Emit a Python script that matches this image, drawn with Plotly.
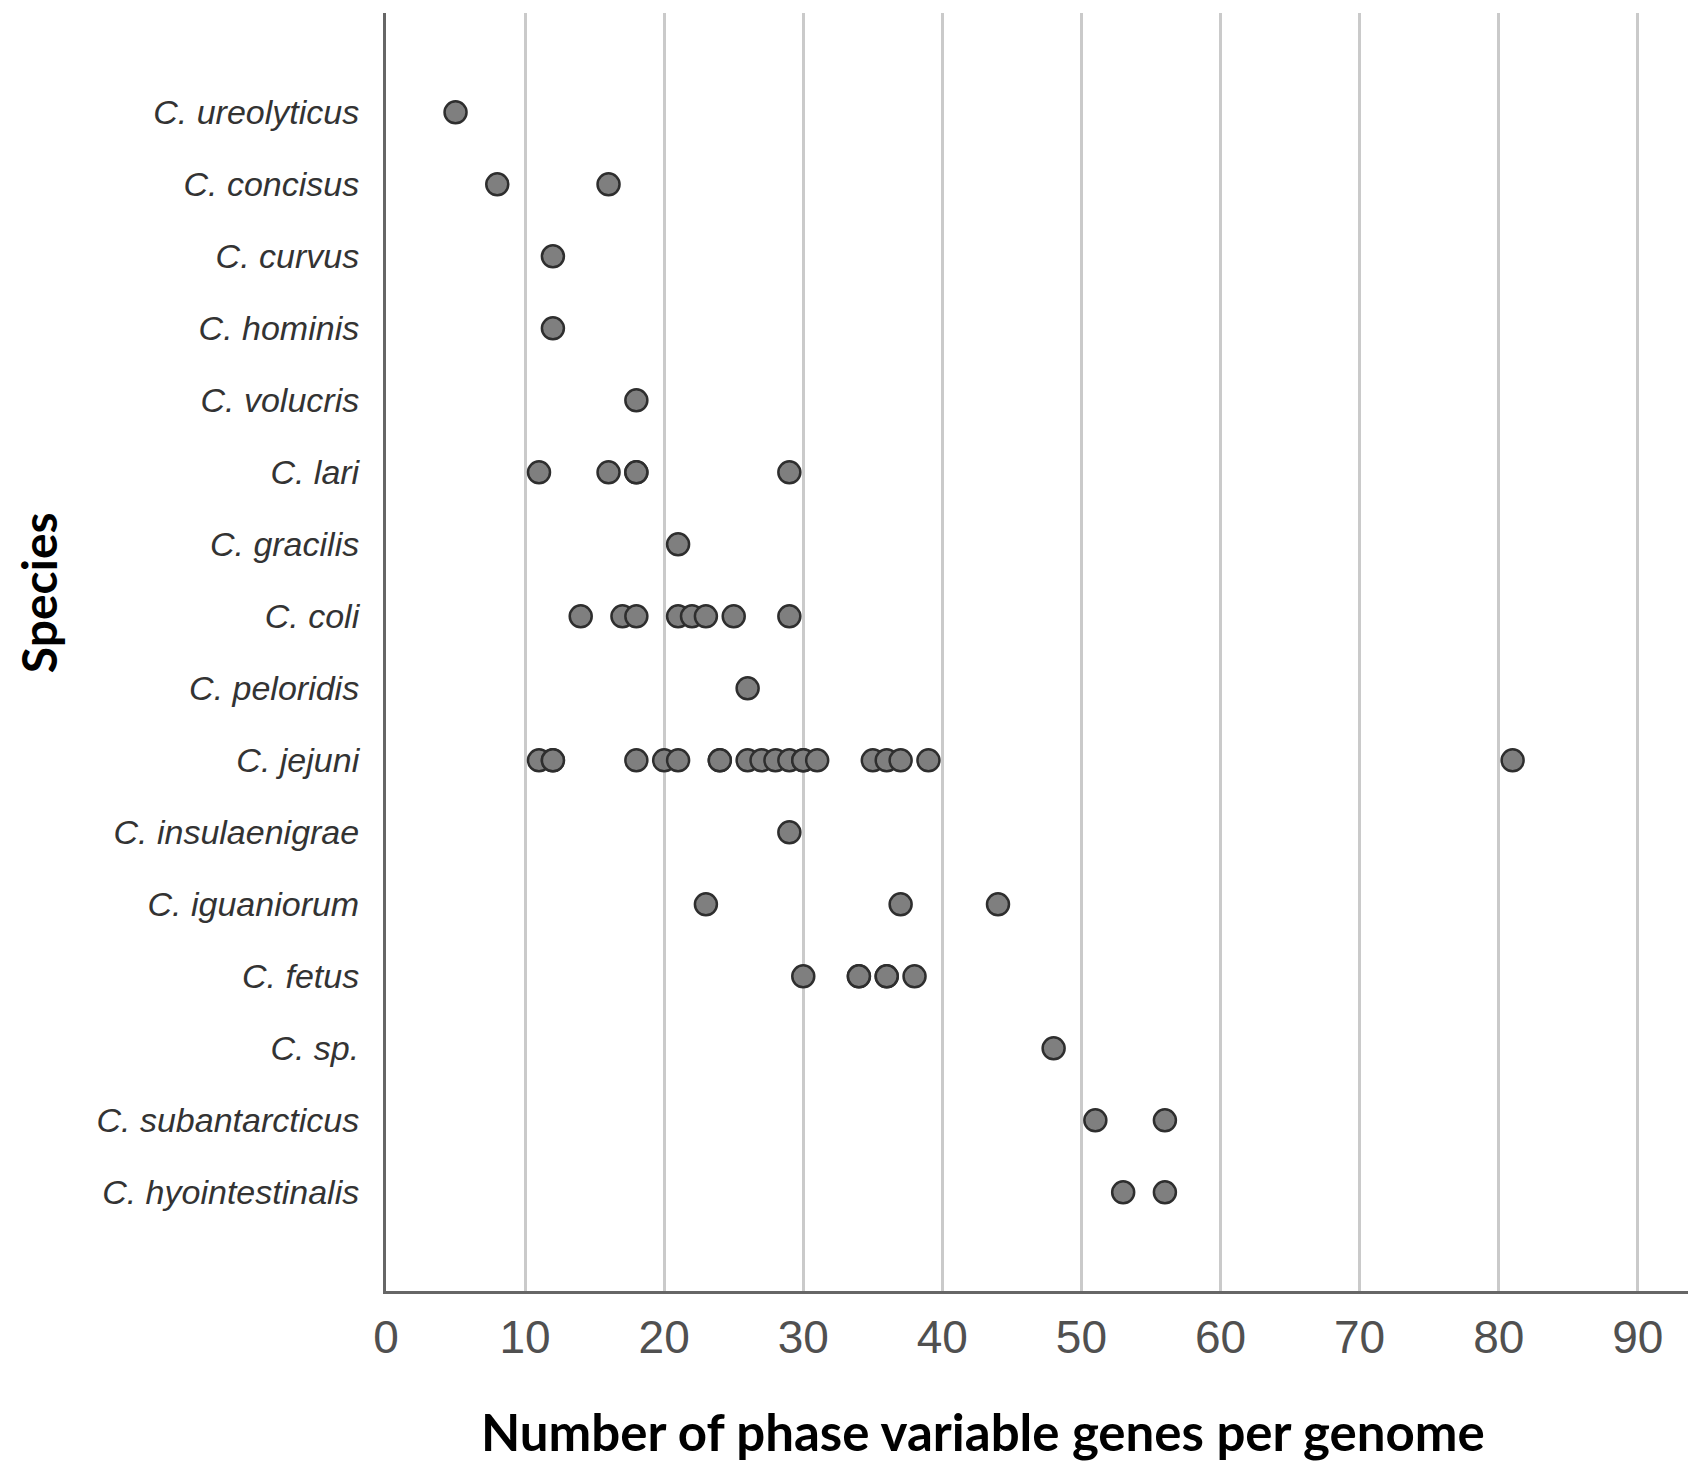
import plotly.graph_objects as go

# species, top to bottom
species = ["C. ureolyticus", "C. concisus", "C. curvus", "C. hominis",
           "C. volucris", "C. lari", "C. gracilis", "C. coli",
           "C. peloridis", "C. jejuni", "C. insulaenigrae", "C. iguaniorum",
           "C. fetus", "C. sp.", "C. subantarcticus", "C. hyointestinalis"]

# number of phase variable genes per genome, one list per species
ureolyticus = [5]
concisus = [8, 16]
curvus = [12]
hominis = [12]
volucris = [18]
lari = [11, 16, 18, 18, 29]
gracilis = [21]
coli = [14, 17, 18, 21, 22, 23, 25, 29]
peloridis = [26]
jejuni = [11, 12, 12, 18, 20, 21, 24, 24, 26, 27, 28, 29, 30, 30, 31,
          35, 36, 37, 39, 81]
insulaenigrae = [29]
iguaniorum = [23, 37, 44]
fetus = [30, 34, 34, 36, 36, 38]
sp = [48]
subantarcticus = [51, 56]
hyointestinalis = [53, 56]

counts = [ureolyticus, concisus, curvus, hominis, volucris, lari, gracilis,
          coli, peloridis, jejuni, insulaenigrae, iguaniorum, fetus, sp,
          subantarcticus, hyointestinalis]

x_ticks = [0, 10, 20, 30, 40, 50, 60, 70, 80, 90]

xs, ys = [], []
for name, vals in zip(species, counts):
    xs += vals
    ys += [name] * len(vals)

fig = go.Figure()
fig.add_trace(go.Scatter(
    x=xs, y=ys, mode="markers",
    marker=dict(size=22, color="#7f7f7f",
                line=dict(color="#2e2e2e", width=2.5)),
    hoverinfo="x+y"))

fig.update_layout(
    width=1696, height=1463,
    margin=dict(l=378, r=5, t=5, b=180),
    paper_bgcolor="white", plot_bgcolor="white",
    showlegend=False,
    font=dict(family="Liberation Sans, Arial, sans-serif"),
)

fig.update_xaxes(
    range=[0, 94.4], tickvals=x_ticks,
    showgrid=True, gridcolor="#cacaca", gridwidth=3,
    zeroline=False,
    showline=True, linecolor="#666666", linewidth=3,
    ticks="", ticklabelstandoff=4,
    tickfont=dict(size=46, color="#505050", family="Liberation Sans, Arial"),
)

fig.update_yaxes(
    type="category", categoryorder="array", categoryarray=species,
    range=[15 + 1.37, -1.38],
    showgrid=False, zeroline=False,
    showline=True, linecolor="#666666", linewidth=3,
    ticks="", ticklabelstandoff=17,
    tickfont=dict(size=34, color="#333333", family="Liberation Sans, Arial"),
)

# italic species names
fig.update_yaxes(ticktext=["<i>%s</i>" % s for s in species], tickvals=species)

fig.add_annotation(
    text="<b>Number of phase variable genes per genome</b>",
    xref="paper", yref="paper", x=0.455, y=-0.1096,
    showarrow=False, xanchor="center", yanchor="middle",
    font=dict(size=51, color="black", family="Lato, Open Sans, sans-serif"))

fig.add_annotation(
    text="<b>Species</b>",
    xref="paper", yref="paper", x=-0.2645, y=0.5466,
    showarrow=False, textangle=-90, xanchor="center", yanchor="middle",
    borderpad=0,
    font=dict(size=48, color="black", family="Lato, Open Sans, sans-serif"))

fig.write_html("out.html")
